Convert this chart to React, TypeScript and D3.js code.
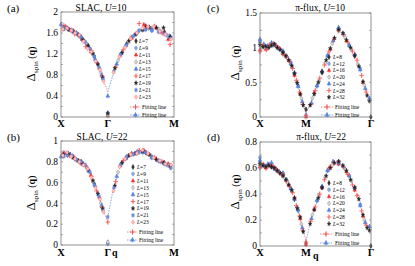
import React from 'react';
import * as d3 from 'd3';

// path coordinate s (units of pi): X=0, middle point=1, end=1+sqrt2
const pathStops = [0, 1, 2.414];
const slacPathLabels = ['X', 'Γ', 'M'];
const fluxPathLabels = ['X', 'M', 'Γ'];

const slacSizes = ['7', '9', '11', '13', '15', '17', '19', '21', '23'];
const fluxSizes = ['8', '12', '16', '20', '24', '28', '32'];

// y ticks
const aTicks = [0, 0.4, 0.8, 1.2, 1.6, 2];
const bTicks = [0, 0.2, 0.4, 0.6, 0.8, 1];
const cTicks = [0, 0.5, 1, 1.5];
const dTicks = [0, 0.2, 0.4, 0.6, 0.8];

// ---- (a) SLAC, U=10 : [s, gap]
const a_L7 = [[0.14,1.69],[0.43,1.52],[0.71,1.16],[1.0,0.05],[1.40,1.39],[1.81,1.73],[2.21,1.62]];
const a_L9 = [[0.11,1.71],[0.33,1.60],[0.56,1.38],[0.78,1.02],[1.0,0.08],[1.31,1.23],[1.63,1.60],[1.94,1.67],[2.26,1.56]];
const a_L11 = [[0.09,1.72],[0.27,1.64],[0.45,1.48],[0.64,1.24],[0.82,0.93],[1.0,0.02],[1.26,1.17],[1.51,1.50],[1.77,1.76],[2.03,1.70],[2.29,1.48]];
const a_L13 = [[0.08,1.69],[0.23,1.66],[0.38,1.55],[0.54,1.40],[0.69,1.18],[0.85,0.85],[1.0,0.04],[1.22,1.08],[1.44,1.43],[1.65,1.63],[1.87,1.69],[2.09,1.67],[2.31,1.55]];
const a_L15 = [[0,1.76],[0.07,1.70],[0.2,1.65],[0.33,1.59],[0.47,1.47],[0.6,1.32],[0.73,1.10],[0.87,0.80],[1.0,0.40],[1.19,1.01],[1.38,1.36],[1.57,1.56],[1.75,1.66],[1.94,1.66],[2.13,1.62],[2.32,1.53]];
const a_L17 = [[0.06,1.74],[0.18,1.67],[0.29,1.58],[0.41,1.53],[0.53,1.34],[0.65,1.27],[0.76,1.04],[0.88,0.78],[1.17,0.95],[1.33,1.28],[1.5,1.52],[1.67,1.78],[1.83,1.70],[2.0,1.73],[2.16,1.60],[2.33,1.38]];
const a_L19 = [[0.05,1.68],[0.16,1.67],[0.26,1.63],[0.37,1.57],[0.47,1.47],[0.58,1.36],[0.68,1.21],[0.79,1.00],[0.89,0.75],[1.0,0.07],[1.15,0.93],[1.30,1.22],[1.45,1.45],[1.6,1.58],[1.74,1.66],[1.89,1.71],[2.04,1.70],[2.19,1.70],[2.34,1.53]];
const a_L21 = [[0.05,1.70],[0.14,1.68],[0.24,1.64],[0.33,1.60],[0.43,1.52],[0.52,1.43],[0.62,1.30],[0.71,1.15],[0.81,0.95],[0.9,0.72],[1.13,0.87],[1.27,1.19],[1.4,1.37],[1.54,1.54],[1.67,1.65],[1.81,1.66],[1.94,1.64],[2.08,1.62],[2.21,1.58],[2.35,1.50]];
const a_L23 = [[0.04,1.67],[0.13,1.69],[0.22,1.65],[0.3,1.60],[0.39,1.56],[0.48,1.44],[0.57,1.30],[0.65,1.24],[0.74,1.06],[0.83,0.90],[0.91,0.68],[1.12,0.85],[1.25,1.15],[1.37,1.33],[1.49,1.49],[1.62,1.60],[1.74,1.69],[1.86,1.72],[1.98,1.72],[2.11,1.63],[2.23,1.57],[2.35,1.48]];
const a_fitRed = [[0.80,0.98],[0.88,0.78],[0.95,0.60],[1.0,0.48]];
const a_fitBlue = [[1.0,0.48],[1.08,0.72],[1.17,0.96],[1.25,1.14]];

// ---- (b) SLAC, U=22
const b_L7 = [[0.14,0.87],[0.43,0.80],[0.71,0.59],[1.0,0.02],[1.40,0.84],[1.81,0.89],[2.21,0.79]];
const b_L9 = [[0.11,0.88],[0.33,0.82],[0.56,0.74],[0.78,0.50],[1.0,0.01],[1.31,0.79],[1.63,0.90],[1.94,0.85],[2.26,0.77]];
const b_L11 = [[0.09,0.87],[0.27,0.85],[0.45,0.78],[0.64,0.67],[0.82,0.46],[1.26,0.76],[1.51,0.88],[1.77,0.91],[2.03,0.83],[2.29,0.78]];
const b_L13 = [[0.08,0.86],[0.23,0.85],[0.38,0.81],[0.54,0.75],[0.69,0.61],[0.85,0.40],[1.0,0.03],[1.22,0.70],[1.44,0.86],[1.65,0.89],[1.87,0.87],[2.09,0.81],[2.31,0.77]];
const b_L15 = [[0,0.85],[0.07,0.88],[0.2,0.87],[0.33,0.82],[0.47,0.78],[0.6,0.71],[0.73,0.57],[0.87,0.38],[1.19,0.66],[1.38,0.83],[1.57,0.88],[1.75,0.89],[1.94,0.84],[2.13,0.80],[2.32,0.76]];
const b_L17 = [[0.06,0.89],[0.18,0.86],[0.29,0.83],[0.41,0.79],[0.53,0.76],[0.65,0.66],[0.76,0.52],[0.88,0.36],[1.0,0.22],[1.17,0.61],[1.33,0.81],[1.5,0.87],[1.67,0.91],[1.83,0.88],[2.0,0.84],[2.16,0.80],[2.33,0.75]];
const b_L19 = [[0.05,0.87],[0.16,0.88],[0.26,0.84],[0.37,0.81],[0.47,0.78],[0.58,0.72],[0.68,0.62],[0.79,0.49],[0.89,0.35],[1.15,0.57],[1.30,0.79],[1.45,0.86],[1.6,0.88],[1.74,0.90],[1.89,0.87],[2.04,0.82],[2.19,0.79],[2.34,0.76]];
const b_L21 = [[0.05,0.85],[0.14,0.86],[0.24,0.86],[0.33,0.82],[0.43,0.80],[0.52,0.77],[0.62,0.70],[0.71,0.58],[0.81,0.47],[0.9,0.33],[1.0,0.27],[1.13,0.55],[1.27,0.77],[1.4,0.85],[1.54,0.87],[1.67,0.89],[1.81,0.89],[1.94,0.84],[2.08,0.81],[2.21,0.78],[2.35,0.74]];
const b_L23 = [[0.04,0.86],[0.13,0.89],[0.22,0.85],[0.3,0.83],[0.39,0.80],[0.48,0.77],[0.57,0.73],[0.65,0.65],[0.74,0.55],[0.83,0.44],[0.91,0.32],[1.12,0.52],[1.25,0.75],[1.37,0.83],[1.49,0.87],[1.62,0.88],[1.74,0.91],[1.86,0.88],[1.98,0.84],[2.11,0.81],[2.23,0.78],[2.35,0.77]];
const b_fitRed = [[0.8,0.48],[0.9,0.34],[1.0,0.22]];
const b_fitBlue = [[1.0,0.27],[1.1,0.50],[1.2,0.67]];

// ---- (c) pi-flux, U=10
const c_L8 = [[0,1.08],[0.25,1.05],[0.5,0.93],[0.75,0.62],[1.0,0.11],[1.35,0.64],[1.71,1.27],[2.06,0.88],[2.41,0.0]];
const c_L12 = [[0,1.10],[0.17,1.03],[0.33,1.05],[0.5,0.94],[0.67,0.79],[0.83,0.45],[1.0,0.03],[1.24,0.45],[1.47,0.89],[1.71,1.28],[1.94,1.04],[2.18,0.70]];
const c_L16 = [[0,0.97],[0.125,0.98],[0.25,1.06],[0.375,1.01],[0.5,0.91],[0.625,0.82],[0.75,0.60],[0.875,0.33],[1.0,0.0],[1.18,0.35],[1.35,0.66],[1.53,0.98],[1.71,1.26],[1.88,1.10],[2.06,0.90],[2.24,0.50]];
const c_L20 = [[0,1.05],[0.1,1.00],[0.2,1.02],[0.3,1.04],[0.4,1.00],[0.5,0.92],[0.6,0.85],[0.7,0.72],[0.8,0.50],[0.9,0.27],[1.14,0.27],[1.28,0.52],[1.42,0.78],[1.57,1.06],[1.71,1.24],[1.85,1.15],[1.99,0.97],[2.13,0.76],[2.27,0.46]];
const c_L24 = [[0,1.12],[0.083,1.05],[0.17,1.02],[0.25,1.07],[0.33,1.03],[0.42,0.98],[0.5,0.95],[0.58,0.88],[0.67,0.77],[0.75,0.64],[0.83,0.44],[0.92,0.22],[1.12,0.20],[1.24,0.45],[1.35,0.66],[1.47,0.88],[1.59,1.10],[1.71,1.29],[1.82,1.20],[1.94,1.03],[2.06,0.90],[2.18,0.68],[2.29,0.41],[2.38,0.27]];
const c_L28 = [[0,0.94],[0.071,1.03],[0.14,0.97],[0.21,1.04],[0.29,1.06],[0.36,1.02],[0.43,0.99],[0.5,0.91],[0.57,0.87],[0.64,0.80],[0.71,0.70],[0.79,0.53],[0.86,0.36],[0.93,0.18],[1.0,0.02],[1.1,0.18],[1.2,0.38],[1.3,0.56],[1.4,0.75],[1.5,0.94],[1.61,1.12],[1.71,1.25],[1.81,1.19],[1.91,1.08],[2.01,0.95],[2.11,0.82],[2.21,0.60],[2.31,0.36]];
const c_L32 = [[0,1.04],[0.0625,1.01],[0.125,1.02],[0.19,1.00],[0.25,1.03],[0.31,1.05],[0.375,1.00],[0.44,0.97],[0.5,0.93],[0.56,0.88],[0.625,0.82],[0.69,0.74],[0.75,0.63],[0.81,0.49],[0.875,0.33],[0.94,0.17],[1.09,0.17],[1.18,0.33],[1.27,0.50],[1.35,0.65],[1.44,0.82],[1.53,0.99],[1.62,1.14],[1.71,1.26],[1.8,1.21],[1.88,1.11],[1.97,1.00],[2.06,0.89],[2.15,0.73],[2.24,0.51],[2.33,0.31],[2.38,0.23]];
const c_fitRed = [[0.8,0.51],[0.9,0.28],[1.0,0.05]];
const c_fitBlue = [[1.0,0.05],[1.1,0.20],[1.2,0.38],[1.3,0.55]];

// ---- (d) pi-flux, U=22
const d_L8 = [[0,0.64],[0.25,0.61],[0.5,0.55],[0.75,0.36],[1.0,0.02],[1.35,0.45],[1.71,0.64],[2.06,0.44],[2.41,0.0]];
const d_L12 = [[0,0.68],[0.17,0.62],[0.33,0.60],[0.5,0.56],[0.67,0.44],[0.83,0.27],[1.24,0.35],[1.47,0.58],[1.71,0.65],[1.94,0.54],[2.18,0.32]];
const d_L16 = [[0,0.61],[0.125,0.60],[0.25,0.62],[0.375,0.58],[0.5,0.54],[0.625,0.47],[0.75,0.37],[0.875,0.21],[1.0,0.01],[1.18,0.28],[1.35,0.45],[1.53,0.61],[1.71,0.63],[1.88,0.57],[2.06,0.43],[2.24,0.23]];
const d_L20 = [[0,0.62],[0.1,0.61],[0.2,0.63],[0.3,0.60],[0.4,0.57],[0.5,0.54],[0.6,0.49],[0.7,0.42],[0.8,0.30],[0.9,0.17],[1.14,0.24],[1.28,0.39],[1.42,0.53],[1.57,0.62],[1.71,0.64],[1.85,0.59],[1.99,0.50],[2.13,0.38],[2.27,0.20]];
const d_L24 = [[0,0.66],[0.083,0.62],[0.17,0.63],[0.25,0.64],[0.33,0.59],[0.42,0.57],[0.5,0.56],[0.58,0.51],[0.67,0.44],[0.75,0.36],[0.83,0.28],[0.92,0.14],[1.12,0.21],[1.24,0.35],[1.35,0.46],[1.47,0.58],[1.59,0.65],[1.71,0.64],[1.82,0.61],[1.94,0.54],[2.06,0.45],[2.18,0.31],[2.29,0.18],[2.38,0.15]];
const d_L28 = [[0,0.60],[0.071,0.63],[0.14,0.60],[0.21,0.62],[0.29,0.61],[0.36,0.59],[0.43,0.56],[0.5,0.55],[0.57,0.50],[0.64,0.46],[0.71,0.41],[0.79,0.31],[0.86,0.23],[0.93,0.12],[1.0,0.03],[1.1,0.19],[1.2,0.30],[1.3,0.40],[1.4,0.51],[1.5,0.60],[1.61,0.64],[1.71,0.65],[1.81,0.61],[1.91,0.55],[2.01,0.47],[2.11,0.39],[2.21,0.27],[2.31,0.16]];
const d_L32 = [[0,0.63],[0.0625,0.62],[0.125,0.61],[0.19,0.62],[0.25,0.61],[0.31,0.60],[0.375,0.58],[0.44,0.56],[0.5,0.54],[0.56,0.51],[0.625,0.47],[0.69,0.43],[0.75,0.37],[0.81,0.29],[0.875,0.22],[0.94,0.11],[1.09,0.17],[1.18,0.28],[1.27,0.37],[1.35,0.45],[1.44,0.54],[1.53,0.60],[1.62,0.64],[1.71,0.65],[1.8,0.62],[1.88,0.58],[1.97,0.51],[2.06,0.45],[2.15,0.36],[2.24,0.24],[2.33,0.14],[2.38,0.12]];
const d_fitRed = [[0.8,0.30],[0.9,0.17],[1.0,0.04]];
const d_fitBlue = [[1.0,0.04],[1.1,0.19],[1.2,0.30],[1.3,0.40]];

const FONT = "'Liberation Serif', 'Times New Roman', serif";
const BLUE = '#3b6fd4';
const RED = '#ee3030';

const slacStyles = [
  { shape: d3.symbolDiamond, stroke: '#333', fill: '#333', size: 7 },
  { shape: d3.symbolCircle, stroke: BLUE, fill: '#8fb0ec', size: 7 },
  { shape: d3.symbolTriangle, stroke: RED, fill: RED, size: 6 },
  { shape: d3.symbolCircle, stroke: '#777', fill: '#ddd', size: 7 },
  { shape: d3.symbolTriangle, stroke: BLUE, fill: '#5a88e0', size: 7 },
  { shape: d3.symbolPlus, stroke: '#ff5050', fill: 'none', size: 8 },
  { shape: d3.symbolStar, stroke: '#222', fill: '#222', size: 5 },
  { shape: d3.symbolSquare, stroke: BLUE, fill: '#6d95e4', size: 6 },
  { shape: d3.symbolCircle, stroke: '#ff6a6a', fill: '#ffc4c4', size: 7 },
];
const fluxStyles = [
  { shape: d3.symbolDiamond, stroke: '#333', fill: '#333', size: 7 },
  { shape: d3.symbolCircle, stroke: BLUE, fill: '#8fb0ec', size: 7 },
  { shape: d3.symbolTriangle, stroke: RED, fill: RED, size: 6 },
  { shape: d3.symbolCircle, stroke: '#777', fill: '#ddd', size: 7 },
  { shape: d3.symbolTriangle, stroke: BLUE, fill: '#5a88e0', size: 7 },
  { shape: d3.symbolPlus, stroke: '#ff5050', fill: 'none', size: 8 },
  { shape: d3.symbolStar, stroke: '#222', fill: '#222', size: 5 },
];
const fitStyles = [
  { shape: d3.symbolPlus, stroke: '#f04848', fill: 'none', size: 10, line: '#f07070' },
  { shape: d3.symbolTriangle, stroke: BLUE, fill: '#5a88e0', size: 8, line: '#6a90e0' },
];

const Marker = ({ x, y, st }) => (
  <g>
    <line x1={x} x2={x} y1={y - 2.5} y2={y + 2.5} stroke={st.stroke} strokeWidth={0.5} />
    <path
      d={d3.symbol().type(st.shape).size(st.size)()}
      transform={`translate(${x},${y})`}
      fill={st.fill}
      stroke={st.stroke}
      strokeWidth={st.fill === 'none' ? 0.8 : 0.35}
    />
  </g>
);

const Panel = ({ p }) => {
  const x = d3.scaleLinear().domain([0, 2.414]).range([p.x0, p.x1]);
  const y = d3.scaleLinear().domain([0, p.yMax]).range([p.y1, p.y0]);
  const minor = d3.range(0, p.yMax + 1e-9, p.minor);
  const fitLine = d3.line().x((d) => x(d[0])).y((d) => y(d[1]));
  const lg = p.legend;
  return (
    <g fontFamily={FONT}>
      <text x={p.tag[0]} y={p.tag[1]} fontSize={11}>{p.tagText}</text>
      <text x={p.title[0]} y={p.title[1]} fontSize={9.5} textAnchor="middle">
        {p.titleText}, <tspan fontStyle="italic">U</tspan>={p.u}
      </text>
      <text transform={`translate(${p.ylab[0]},${p.ylab[1]}) rotate(-90)`} textAnchor="middle">
        <tspan fontSize={13}>Δ</tspan>
        <tspan fontSize={7} dy={3}>spin</tspan>
        <tspan fontSize={10} dy={-3}> (</tspan>
        <tspan fontSize={10} fontWeight="bold">q</tspan>
        <tspan fontSize={10}>)</tspan>
      </text>
      {p.fits.map((f, i) => (
        <path key={'f' + i} d={fitLine(f)} fill="none" stroke={fitStyles[i].line} strokeWidth={0.8} strokeDasharray="1.5,1.2" />
      ))}
      {p.series.map((ser, i) =>
        ser.map((d, j) => <Marker key={i + '-' + j} x={x(d[0])} y={y(d[1])} st={p.styles[i]} />)
      )}
      <rect x={p.x0} y={p.y0} width={p.x1 - p.x0} height={p.y1 - p.y0} fill="none" stroke="#777" strokeWidth={0.8} />
      {minor.map((v, i) => (
        <g key={'t' + i} stroke="#777" strokeWidth={0.6}>
          <line x1={p.x0} x2={p.x0 + 2} y1={y(v)} y2={y(v)} />
          <line x1={p.x1 - 2} x2={p.x1} y1={y(v)} y2={y(v)} />
        </g>
      ))}
      {p.ticks.map((v) => (
        <text key={'yl' + v} x={p.x0 - 3} y={y(v) + 3.2} fontSize={9.5} textAnchor="end">{String(v)}</text>
      ))}
      {pathStops.map((s, i) => (
        <text key={'xl' + i} x={x(s)} y={p.xlabY} fontSize={10.5} fontWeight="bold" textAnchor="middle">{p.pathLabels[i]}</text>
      ))}
      {p.q && (
        <text x={p.q[0]} y={p.q[1]} fontSize={10} fontWeight="bold">q</text>
      )}
      {p.sizes.map((L, i) => {
        const ly = lg.y0 + i * lg.step;
        return (
          <g key={'lg' + i}>
            <Marker x={lg.mx} y={ly} st={p.styles[i]} />
            <text x={lg.tx} y={ly + 2} fontSize={5.5}>
              <tspan fontStyle="italic">L</tspan>={L}
            </text>
          </g>
        );
      })}
      {lg.fitY.map((fy, i) => (
        <g key={'lf' + i}>
          <line x1={lg.dash[0]} x2={lg.dash[1]} y1={fy} y2={fy} stroke={fitStyles[i].line} strokeWidth={0.8} strokeDasharray="1.5,1.2" />
          <Marker x={(lg.dash[0] + lg.dash[1]) / 2} y={fy} st={fitStyles[i]} />
          <text x={lg.ftx} y={fy + 2} fontSize={5.5}>Fitting line</text>
        </g>
      ))}
    </g>
  );
};

const panels = [
  {
    tagText: '(a)', tag: [7, 12], titleText: 'SLAC', u: 10, title: [101, 11], ylab: [35, 64],
    x0: 61, x1: 174, y0: 12, y1: 117, yMax: 2, minor: 0.2, ticks: aTicks,
    pathLabels: slacPathLabels, xlabY: 127, sizes: slacSizes, styles: slacStyles,
    series: [a_L7, a_L9, a_L11, a_L13, a_L15, a_L17, a_L19, a_L21, a_L23], fits: [a_fitRed, a_fitBlue],
    legend: { mx: 136, tx: 139, y0: 41, step: 7, fitY: [107, 115], dash: [130, 141], ftx: 142 },
  },
  {
    tagText: '(b)', tag: [7, 141], titleText: 'SLAC', u: 22, title: [102, 140], ylab: [35, 193],
    x0: 61, x1: 174, y0: 141, y1: 245, yMax: 1, minor: 0.1, ticks: bTicks,
    pathLabels: slacPathLabels, xlabY: 256, q: [112, 256], sizes: slacSizes, styles: slacStyles,
    series: [b_L7, b_L9, b_L11, b_L13, b_L15, b_L17, b_L19, b_L21, b_L23], fits: [b_fitRed, b_fitBlue],
    legend: { mx: 133, tx: 137, y0: 167, step: 6.9, fitY: [232, 240], dash: [127, 138], ftx: 139 },
  },
  {
    tagText: '(c)', tag: [207, 12], titleText: 'π-flux', u: 10, title: [320, 11], ylab: [239, 63],
    x0: 260, x1: 371, y0: 13, y1: 117, yMax: 1.5, minor: 0.25, ticks: cTicks,
    pathLabels: fluxPathLabels, xlabY: 127, sizes: fluxSizes, styles: fluxStyles,
    series: [c_L8, c_L12, c_L16, c_L20, c_L24, c_L28, c_L32], fits: [c_fitRed, c_fitBlue],
    legend: { mx: 329, tx: 333, y0: 57, step: 6.7, fitY: [107, 115], dash: [321, 333], ftx: 335 },
  },
  {
    tagText: '(d)', tag: [207, 141], titleText: 'π-flux', u: 22, title: [321, 140], ylab: [239, 192],
    x0: 260, x1: 371, y0: 142, y1: 246, yMax: 0.8, minor: 0.1, ticks: dTicks,
    pathLabels: fluxPathLabels, xlabY: 256, q: [313, 259], sizes: fluxSizes, styles: fluxStyles,
    series: [d_L8, d_L12, d_L16, d_L20, d_L24, d_L28, d_L32], fits: [d_fitRed, d_fitBlue],
    legend: { mx: 329, tx: 333, y0: 183, step: 6.8, fitY: [234, 243], dash: [320, 332], ftx: 335 },
  },
];

export default function App() {
  return (
    <svg width={415} height={266} style={{ position: 'absolute', left: 0, top: 0, background: '#fff' }}>
      {panels.map((p, i) => <Panel key={i} p={p} />)}
    </svg>
  );
}
